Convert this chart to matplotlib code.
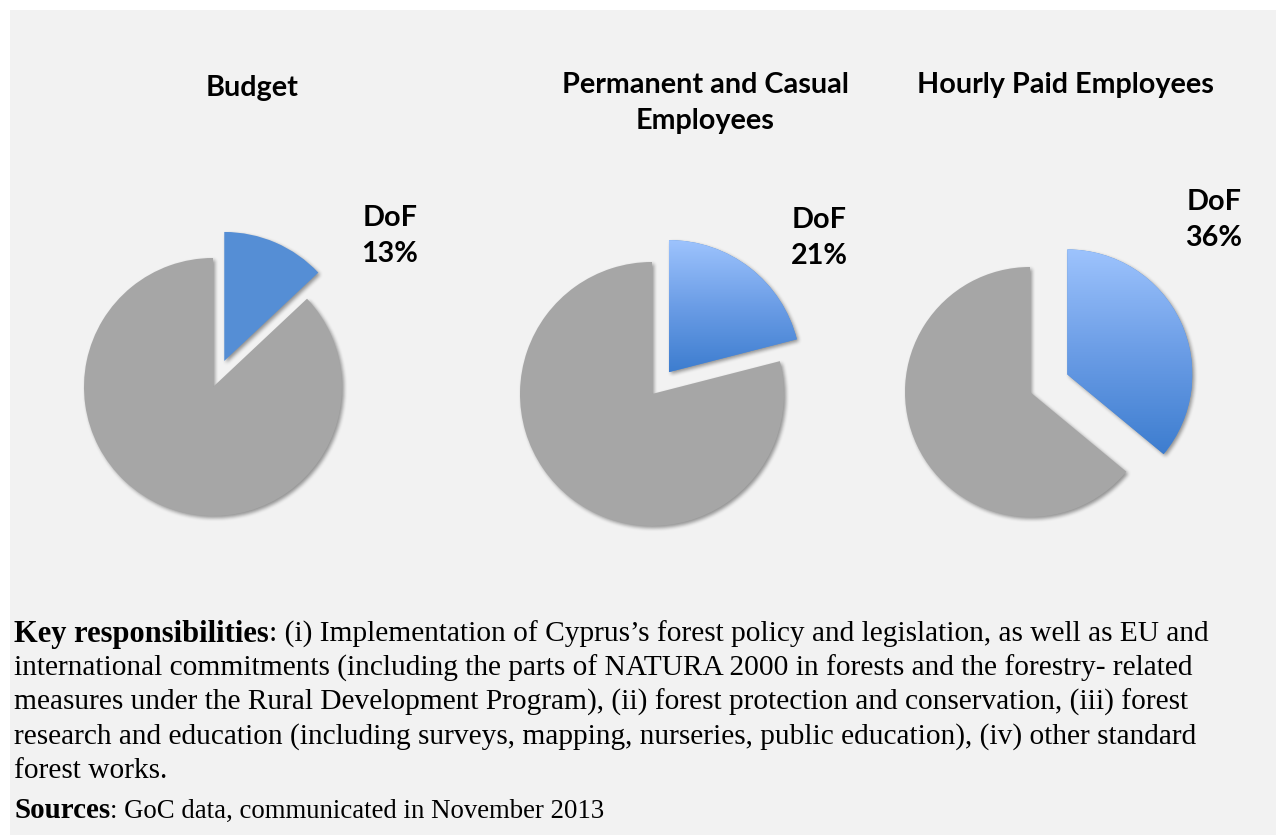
import numpy as np
import matplotlib
matplotlib.use("Agg")
import matplotlib.pyplot as plt
from matplotlib.patches import Rectangle
from matplotlib.colors import LinearSegmentedColormap

# ---- data -------------------------------------------------------------
titles = ["Budget", "Permanent and Casual\nEmployees", "Hourly Paid Employees"]
dof_label = "DoF"
dof_share = [13, 21, 36]          # % share of the Department of Forests
explode_dof = [0.22, 0.21, 0.33]

key_lines = [
    ("Key responsibilities", ": (i) Implementation of Cyprus\u2019s forest policy and legislation, as well as EU and"),
    ("", "international commitments (including the parts of NATURA 2000 in forests and the forestry- related"),
    ("", "measures under the Rural Development Program), (ii) forest protection and conservation, (iii) forest"),
    ("", "research and education (including surveys, mapping, nurseries, public education), (iv) other standard"),
    ("", "forest works."),
]
source_line = ("Sources", ": GoC data, communicated in November 2013")

# ---- styling ----------------------------------------------------------
W, H = 1276, 835
BG = "#f2f2f2"
GREY = "#a6a6a6"
BLUE_SOLID = "#558ed5"
blue_grad = LinearSegmentedColormap.from_list("blue_grad", ["#3d7dcf", "#6b9de6", "#9dc3fd"])
use_gradient = [False, True, True]

# pie placement in pixels: centre x, centre y (from top), radius
pie_geom = [(213, 387, 129), (652, 394, 132), (1030, 392, 125)]
title_pos = [(252, 88), (705, 103), (1065, 85)]
label_pos = [(390, 236), (819, 238), (1214, 220)]

SANS = ["Lato", "DejaVu Sans"]
SERIF = ["Liberation Serif", "DejaVu Serif"]
TITLE_SIZE = 20.7

fig = plt.figure(figsize=(W / 100, H / 100), dpi=100, facecolor="white")
fig.patches.append(Rectangle((10 / W, 0), 1 - 10 / W, 1 - 10 / H,
                             transform=fig.transFigure, facecolor=BG,
                             edgecolor="none", zorder=-5))


# ---- soft drop shadow via agg filter ---------------------------------
def _blur1d(a, n, axis):
    k = np.hanning(2 * n + 3)[1:-1]
    k = k / k.sum()
    return np.apply_along_axis(lambda v: np.convolve(v, k, mode="same"), axis, a)


class SoftShadow:
    def __init__(self, sigma=4, dx=2, dy=2, alpha=0.4):
        self.sigma, self.dx, self.dy, self.alpha = sigma, dx, dy, alpha

    def __call__(self, im, dpi):
        pad = self.sigma * 3
        src = np.pad(im, [(pad, pad), (pad, pad), (0, 0)], "constant")
        a = src[:, :, 3]
        a = _blur1d(a, self.sigma, 0)
        a = _blur1d(a, self.sigma, 1)
        a = np.roll(np.roll(a, self.dx, axis=1), self.dy, axis=0)
        out = np.zeros_like(src)
        out[:, :, 3] = np.clip(a * self.alpha, 0, 1)
        return out, -pad, -pad


def px_axes(cx, cy, r, span=2.0):
    half = r * span
    return fig.add_axes([(cx - half) / W, 1 - (cy + half) / H, 2 * half / W, 2 * half / H])


for i, share in enumerate(dof_share):
    cx, cy, r = pie_geom[i]
    ax = px_axes(cx, cy, r)
    ax.set_aspect("equal")
    ax.axis("off")

    values = [share, 100 - share]
    explode = [explode_dof[i], 0]

    # shadow layer
    sh, _ = ax.pie(values, explode=explode, startangle=90, counterclock=False,
                   radius=1, colors=["k", "k"], wedgeprops=dict(linewidth=0))
    for w in sh:
        w.set_agg_filter(SoftShadow())
        w.set_zorder(1)

    wedges, _ = ax.pie(values, explode=explode, startangle=90, counterclock=False,
                       radius=1, colors=[BLUE_SOLID, GREY], wedgeprops=dict(linewidth=0))
    for w in wedges:
        w.set_zorder(2)

    if use_gradient[i]:
        dof_wedge = wedges[0]
        ext = dof_wedge.get_path().get_extents()
        grad = np.linspace(0, 1, 256).reshape(-1, 1)
        img = ax.imshow(grad, cmap=blue_grad, origin="lower", aspect="auto",
                        extent=[ext.x0, ext.x1, ext.y0, ext.y1], zorder=3,
                        interpolation="bilinear")
        img.set_clip_path(dof_wedge)
    ax.set_xlim(-2, 2)
    ax.set_ylim(-2, 2)

    tx, ty = title_pos[i]
    fig.text(tx / W, 1 - ty / H, titles[i], ha="center", va="center",
             fontsize=TITLE_SIZE, fontweight="bold", family=SANS, linespacing=1.44)

    lx, ly = label_pos[i]
    fig.text(lx / W, 1 - ly / H, f"{dof_label}\n{share}%", ha="center", va="center",
             fontsize=TITLE_SIZE, fontweight="bold", family=SANS, linespacing=1.43)

# ---- explanatory text -------------------------------------------------
fig.canvas.draw()
renderer = fig.canvas.get_renderer()

LEFT = 14
baselines = [642, 676, 710, 744, 778]


def mixed_line(y_px, bold, rest, size=21.2, bold_size=22.0):
    x = LEFT / W
    y = 1 - y_px / H
    if bold:
        t = fig.text(x, y, bold, fontsize=bold_size, fontweight="bold",
                     family=SERIF, va="baseline", ha="left")
        bb = t.get_window_extent(renderer)
        x = bb.x1 / W
    fig.text(x, y, rest, fontsize=size, family=SERIF, va="baseline", ha="left")


for yb, (b, rest) in zip(baselines, key_lines):
    mixed_line(yb, b, rest)
mixed_line(818, *source_line, size=19.3, bold_size=20.9)

fig.savefig("out.png", dpi=100, facecolor=fig.get_facecolor())
